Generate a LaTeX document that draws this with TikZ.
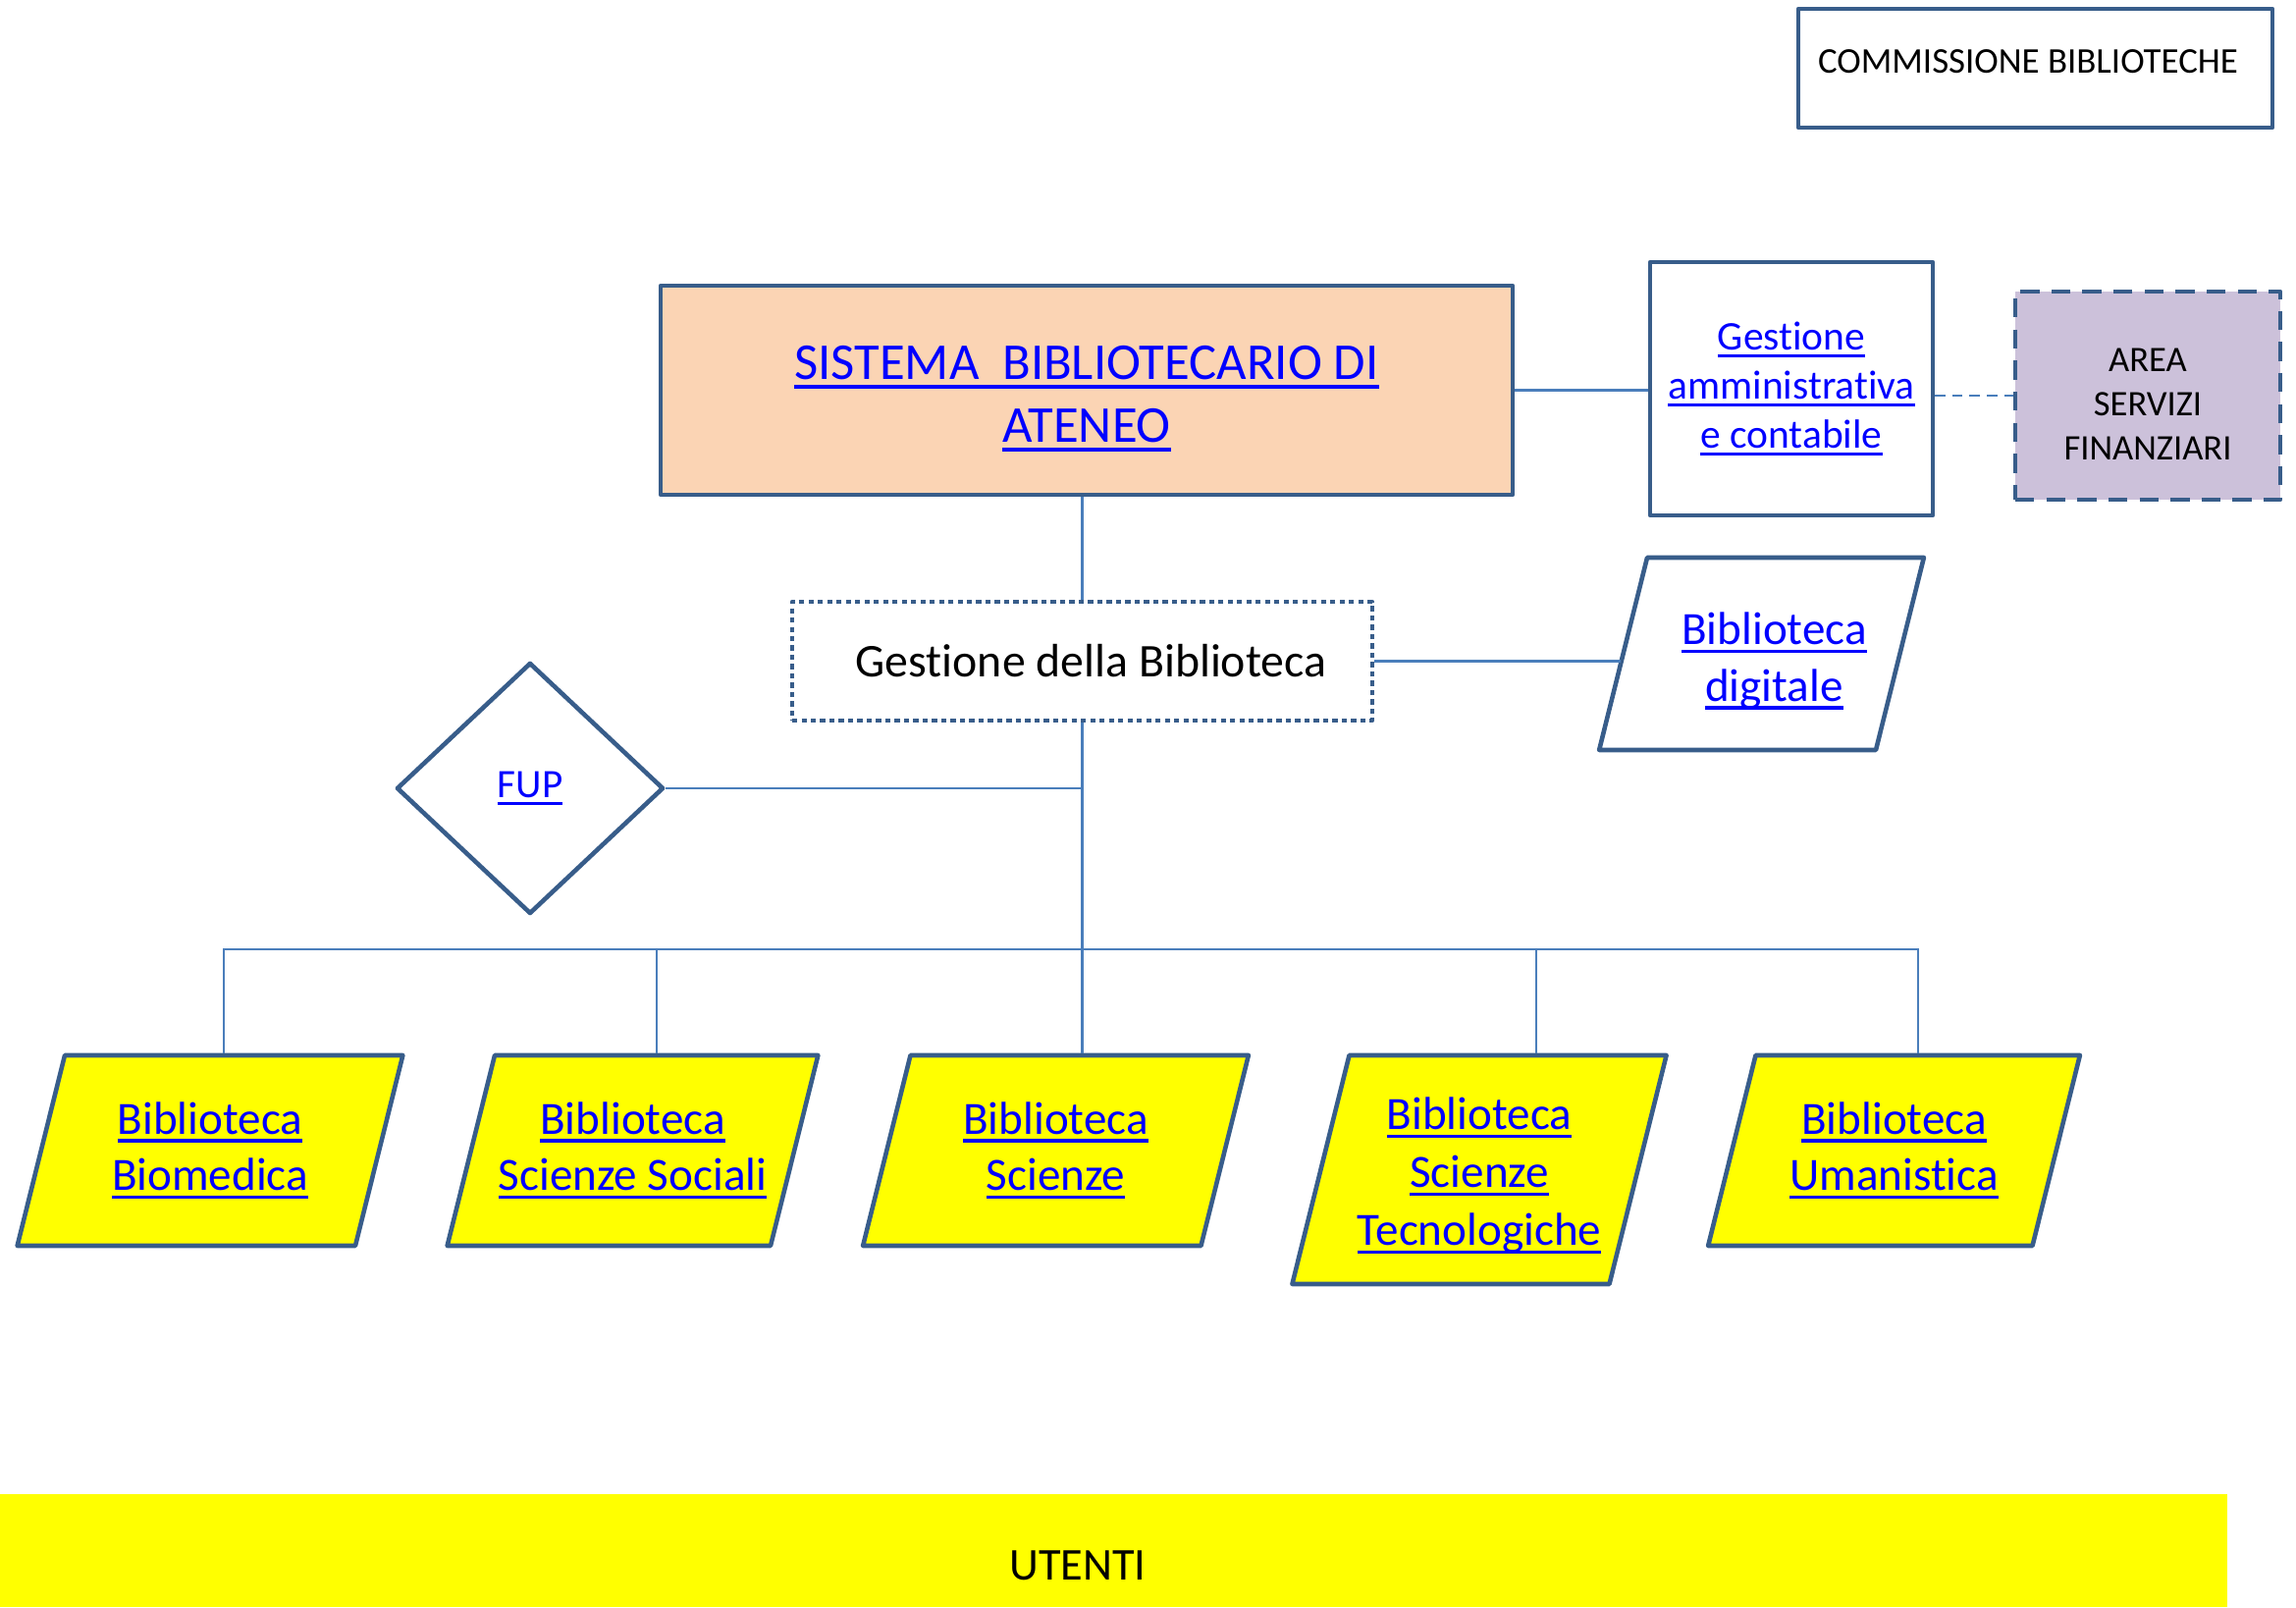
\documentclass[tikz,border=0pt]{standalone}
\usepackage{fontspec}
\setmainfont{Carlito}[Ligatures=NoCommon]
\usetikzlibrary{shapes, shapes.geometric}
\definecolor{bordo}{RGB}{56,93,138}
\definecolor{linea}{RGB}{74,126,187}
\definecolor{pesca}{RGB}{251,212,180}
\definecolor{lilla}{RGB}{204,193,218}
\definecolor{giallo}{RGB}{255,255,0}
\definecolor{linkblu}{RGB}{0,0,255}
\newsavebox{\lnkbox}
\newcommand{\lnk}[1]{\leavevmode{\color{linkblu}\sbox{\lnkbox}{#1}\rlap{\rule[-0.18em]{\wd\lnkbox}{0.075em}}\usebox{\lnkbox}}}
% testo centrato in un blocco di altezza e larghezza date
\newcommand{\blocco}[3]{\parbox[c][#1][c]{#2}{\centering #3}}

\begin{document}
\begin{tikzpicture}[
  box/.style={draw=bordo, line width=1.3pt, line join=round, inner sep=0pt, align=center},
  para/.style={trapezium, trapezium left angle=76, trapezium right angle=104,
    box, fill=giallo, font=\fontsize{13.4}{16.3}\selectfont},
  conn/.style={draw=linea, line width=0.6pt}]
\useasboundingbox (0,0) rectangle (23.39,16.37);

\node[box, minimum width=4.83cm, minimum height=1.21cm, text height=0.24cm, text depth=0.14cm,
  font=\fontsize{10.5}{12.8}\selectfont] (CB) at (20.735,15.675) {COMMISSIONE BIBLIOTECHE\hspace*{0.15cm}};
\node[box, fill=pesca, minimum width=8.68cm, minimum height=2.13cm,
  font=\fontsize{15}{18.3}\selectfont] (SBA) at (11.07,12.395) {\rule{0pt}{0.52cm}\lnk{SISTEMA\ \ BIBLIOTECARIO DI}\\ \lnk{ATENEO}};
\node[box, minimum width=2.88cm, minimum height=2.58cm,
  font=\fontsize{11.8}{14.3}\selectfont] (GA) at (18.25,12.41) {\lnk{Gestione}\\ \lnk{amministrativa}\\ \lnk{e contabile}};
\node[box, fill=lilla, dash pattern=on 5.5pt off 3.5pt, minimum width=2.70cm, minimum height=2.12cm,
  font=\fontsize{10.4}{12.8}\selectfont] (ASF) at (21.88,12.34) {\rule{0pt}{0.42cm}AREA\\ SERVIZI\\ FINANZIARI};
\node[box, dash pattern=on 1.5pt off 1.2pt, minimum width=5.91cm, minimum height=1.21cm,
  font=\fontsize{13.6}{16.5}\selectfont] (GB) at (11.025,9.635) {\hspace*{0.18cm}Gestione della Biblioteca};
\node[para, fill=white] (BD) at (17.945,9.71)
  {\blocco{1.96cm}{2.33cm}{\vspace*{0.15cm}\hspace*{0.26cm}\lnk{Biblioteca}\\ \hspace*{0.26cm}\lnk{digitale}}};
\node[box, diamond, minimum width=2.72cm, minimum height=2.56cm,
  font=\fontsize{11.7}{14.3}\selectfont] (FUP) at (5.40,8.34) {\lnk{FUP}};

% biblioteche
\node[para] (BB) at (2.14,4.65) {\blocco{1.94cm}{2.96cm}{\lnk{Biblioteca}\\ \lnk{Biomedica}}};
\node[para] (BSS) at (6.445,4.65) {\blocco{1.94cm}{2.81cm}{\lnk{Biblioteca}\\ \lnk{Scienze Sociali}}};
\node[para] (BS) at (10.755,4.65) {\blocco{1.94cm}{2.96cm}{\lnk{Biblioteca}\\ \lnk{Scienze}}};
\node[para, font=\fontsize{13.4}{16.8}\selectfont] (BST) at (15.07,4.455)
  {\blocco{2.33cm}{2.65cm}{\vspace*{0.12cm}\lnk{Biblioteca}\\ \lnk{Scienze}\\ \lnk{Tecnologiche}}};
\node[para] (BU) at (19.295,4.65) {\blocco{1.94cm}{2.82cm}{\lnk{Biblioteca}\\ \lnk{Umanistica}}};

\node[fill=giallo, minimum width=22.69cm, minimum height=1.15cm, inner sep=0pt] (U) at (11.345,0.575) {};
\node[font=\fontsize{13.2}{16}\selectfont] (Ut) at (10.98,0.42) {UTENTI};

% collegamenti
\coordinate (bus) at (11.025,6.70);
\draw[conn] (SBA.east) -- (SBA.east -| GA.west);
\draw[conn, dash pattern=on 3pt off 2pt] (ASF.west -| GA.east) -- (ASF.west);
\draw[conn] (GB.north) -- (GB.north |- SBA.south);
\draw[conn] (GB.east) -- (GB.east -| BD.left side);
\draw[conn] (GB.south) -- (GB.south |- BS.north);
\draw[conn] (FUP.east) -- (FUP.east -| GB.south);
\draw[conn] ([xshift=-1.1mm]BB.top side) -- ([xshift=-1.1mm]BB.top side |- bus) -- (BU.top side |- bus) -- (BU.top side);
\draw[conn] (BSS.top side) -- (BSS.top side |- bus);
\draw[conn] ([xshift=2.8mm]BST.top side) -- ([xshift=2.8mm]BST.top side |- bus);
\end{tikzpicture}
\end{document}
